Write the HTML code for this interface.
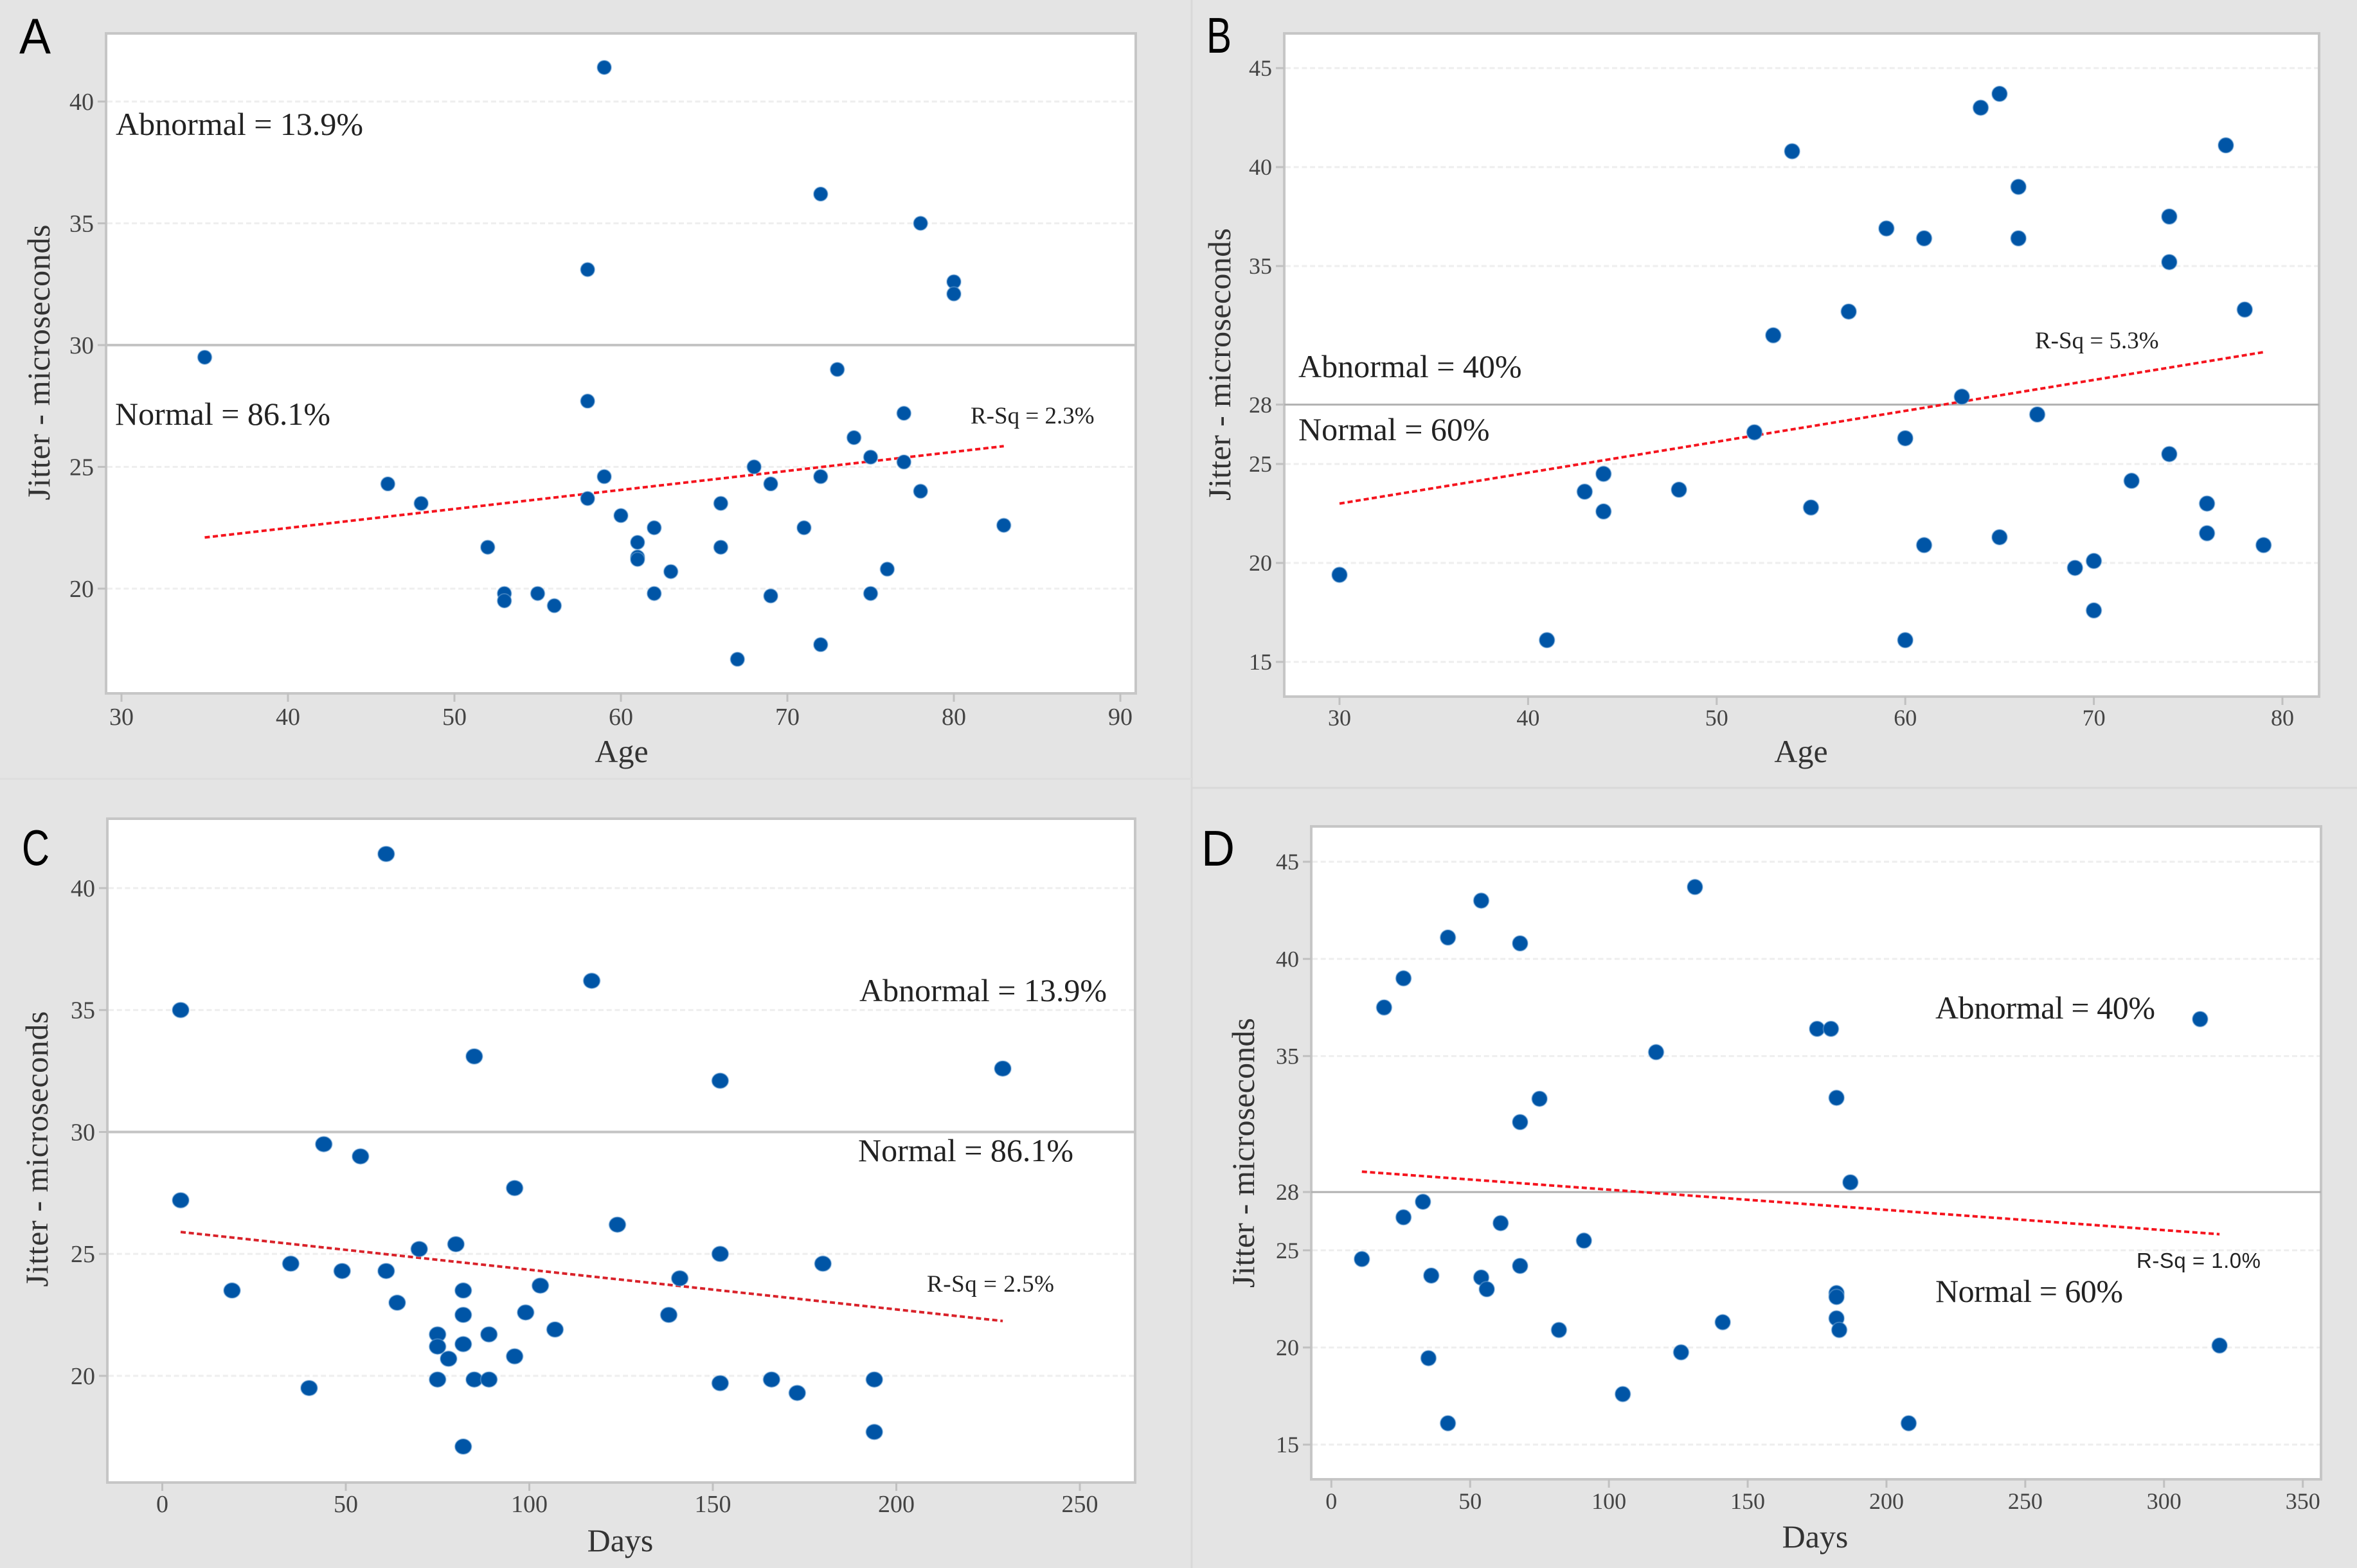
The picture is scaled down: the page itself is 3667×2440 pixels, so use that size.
<!DOCTYPE html>
<html lang="en">
<head>
<meta charset="utf-8">
<title>Jitter scatter plots</title>
<style>
html,body{margin:0;padding:0;background:#e4e4e4;}
svg{display:block;}
text{font-family:"Liberation Serif",serif;}
.letter{font-family:"Liberation Sans",sans-serif;font-size:78px;fill:#000;}
.note{font-size:50px;fill:#222;}
.rsq{font-size:37px;fill:#222;}
.axis-title{font-size:50px;fill:#333;text-anchor:middle;}
.tick-label{fill:#444;}
</style>
</head>
<body>
<svg id="figure" xmlns="http://www.w3.org/2000/svg" width="3667" height="2440" viewBox="0 0 3667 2440">
  <rect x="0" y="0" width="3667" height="2440" fill="#e4e4e4"/>
  <line x1="1854" y1="0" x2="1854" y2="2440" stroke="#d8d8d8" stroke-width="3"/>
  <line x1="0" y1="1212" x2="1854" y2="1212" stroke="#dedede" stroke-width="3"/>
  <line x1="1854" y1="1226" x2="3667" y2="1226" stroke="#d8d8d8" stroke-width="3"/>

  <g id="panel-a"></g>
  <g id="panel-b"></g>
  <g id="panel-c"></g>
  <g id="panel-d"></g>

  <g>
    <text class="letter" x="30" y="83" textLength="49" lengthAdjust="spacingAndGlyphs">A</text>
    <text class="axis-title" x="967" y="1186">Age</text>
    <text class="axis-title" transform="translate(77 564) rotate(-90)" x="0" y="0" textLength="429">Jitter - microseconds</text>
    <text class="note" x="180" y="210">Abnormal = 13.9%</text>
    <text class="note" x="179" y="661">Normal = 86.1%</text>
    <text class="rsq" x="1510" y="659">R-Sq = 2.3%</text>
  </g>
  <g>
    <text class="letter" x="1877" y="82" textLength="39" lengthAdjust="spacingAndGlyphs">B</text>
    <text class="axis-title" x="2802" y="1186">Age</text>
    <text class="axis-title" transform="translate(1914 567) rotate(-90)" x="0" y="0" textLength="424">Jitter - microseconds</text>
    <text class="note" x="2020" y="587">Abnormal = 40%</text>
    <text class="note" x="2020" y="685">Normal = 60%</text>
    <text class="rsq" x="3166" y="542">R-Sq = 5.3%</text>
  </g>
  <g>
    <text class="letter" x="34" y="1346" textLength="43" lengthAdjust="spacingAndGlyphs">C</text>
    <text class="axis-title" x="965" y="2414">Days</text>
    <text class="axis-title" transform="translate(74 1788) rotate(-90)" x="0" y="0" textLength="429">Jitter - microseconds</text>
    <text class="note" x="1337" y="1558">Abnormal = 13.9%</text>
    <text class="note" x="1335" y="1807">Normal = 86.1%</text>
    <text class="rsq" x="1442" y="2010" textLength="198">R-Sq = 2.5%</text>
  </g>
  <g>
    <text class="letter" x="1869" y="1347" textLength="52" lengthAdjust="spacingAndGlyphs">D</text>
    <text class="axis-title" x="2824" y="2408">Days</text>
    <text class="axis-title" transform="translate(1951 1794) rotate(-90)" x="0" y="0" textLength="420">Jitter - microseconds</text>
    <text class="note" x="3011" y="1585" textLength="342">Abnormal = 40%</text>
    <text class="note" x="3011" y="2026" textLength="292">Normal = 60%</text>
    <text class="rsq" x="3324" y="1973" textLength="193" style="font-family:'Liberation Sans',sans-serif;font-size:33px;">R-Sq = 1.0%</text>
  </g>
</svg>

<script>
// Panel A: jitter vs age (normal limit 30)
const panelAAge = [59,72,78,58,80,80,35,73,58,77,74,75,77,68,59,72,46,69,78,58,48,66,60,62,71,83,61,52,66,61,61,63,76,53,55,62,75,53,56,69,72,67];
const panelAJitter = [41.4,36.2,35,33.1,32.6,32.1,29.5,29,27.7,27.2,26.2,25.4,25.2,25,24.6,24.6,24.3,24.3,24,23.7,23.5,23.5,23,22.5,22.5,22.6,21.9,21.7,21.7,21.3,21.2,20.7,20.8,19.8,19.8,19.8,19.8,19.5,19.3,19.7,17.7,17.1];
const panelATrendX = [35,83];
const panelATrendY = [22.1,25.85];
const panelAXTicks = [30,40,50,60,70,80,90];
const panelAYTicks = [20,25,30,35,40];
const panelALimit = [30];

// Panel B: jitter vs age (normal limit 28)
const panelBAge = [30,41,43,44,44,48,52,53,54,55,57,59,60,60,61,61,63,64,65,65,66,66,67,69,70,70,72,74,74,74,76,76,77,78,79];
const panelBJitter = [19.4,16.1,23.6,24.5,22.6,23.7,26.6,31.5,40.8,22.8,32.7,36.9,26.3,16.1,36.4,20.9,28.4,43,43.7,21.3,39,36.4,27.5,19.75,20.1,17.6,24.15,37.5,35.2,25.5,23,21.5,41.1,32.8,20.9];
const panelBTrendX = [30,79];
const panelBTrendY = [23,30.65];
const panelBXTicks = [30,40,50,60,70,80];
const panelBYTicks = [15,20,25,28,35,40,45];
const panelBLimit = [28];

// Panel C: jitter vs days (normal limit 30)
const panelCDays = [5,5,19,35,40,44,49,54,61,61,64,70,75,75,75,78,80,82,82,82,82,85,85,89,89,96,96,99,103,107,117,124,138,141,152,152,152,166,173,180,194,194,229];
const panelCJitter = [35,27.2,23.5,24.6,19.5,29.5,24.3,29,41.4,24.3,23,25.2,21.7,21.2,19.85,20.7,25.4,23.5,22.5,21.3,17.1,33.1,19.85,21.7,19.85,27.7,20.8,22.6,23.7,21.9,36.2,26.2,22.5,24,32.1,25,19.7,19.85,19.3,24.6,19.85,17.7,32.6];
const panelCTrendX = [5,229];
const panelCTrendY = [25.9,22.25];
const panelCXTicks = [0,50,100,150,200,250];
const panelCYTicks = [20,25,30,35,40];
const panelCLimit = [30];

// Panel D: jitter vs days (normal limit 28)
const panelDDays = [11,19,26,26,33,35,36,42,42,54,54,56,61,68,68,68,75,82,91,105,117,126,131,141,175,180,182,182,182,182,183,187,208,313,320];
const panelDJitter = [24.55,37.5,39,26.7,27.5,19.45,23.7,41.1,16.1,43,23.6,23,26.4,40.8,31.6,24.2,32.8,20.9,25.5,17.6,35.2,19.75,43.7,21.3,36.4,36.4,32.85,22.8,22.6,21.5,20.9,28.5,16.1,36.9,20.1];
const panelDTrendX = [11,320];
const panelDTrendY = [29.05,25.83];
const panelDXTicks = [0,50,100,150,200,250,300,350];
const panelDYTicks = [15,20,25,28,35,40,45];
const panelDLimit = [28];

const SVG_NS = 'http://www.w3.org/2000/svg';

function make(parent, tag, attrs) {
  const el = document.createElementNS(SVG_NS, tag);
  for (const key in attrs) el.setAttribute(key, attrs[key]);
  parent.appendChild(el);
  return el;
}

function linearScale(domain, range) {
  return function (v) {
    return range[0] + (v - domain[0]) * (range[1] - range[0]) / (domain[1] - domain[0]);
  };
}

function drawPanel(id, layout, xValues, yValues, trendX, trendY, xTicks, yTicks, limit) {
  const root = document.getElementById(id);
  const xScale = linearScale(layout.xDomain, layout.xRange);
  const yScale = linearScale(layout.yDomain, layout.yRange);
  const w = layout.right - layout.left;
  const h = layout.bottom - layout.top;

  const plot = make(root, 'rect', {x: layout.left, y: layout.top, width: w, height: h, fill: '#fff', stroke: '#c6c6c6', 'stroke-width': 4});
  
  

  yTicks.forEach(function (t) {
    const y = yScale(t);
    const isLimit = limit.indexOf(t) >= 0;
    if (!isLimit) {
      const grid = make(root, 'line', {x1: layout.left + 2, y1: y, x2: layout.right - 2, y2: y, stroke: '#eeeeee', 'stroke-width': 3, 'stroke-dasharray': '8 4.7'});
      
      
    }
    const tick = make(root, 'line', {x1: layout.left - 13, y1: y, x2: layout.left, y2: y, stroke: '#c0c0c0', 'stroke-width': 3});
    
    
    const label = make(root, 'text', {x: layout.left - 19, y: y + layout.tickSize * 0.34, 'text-anchor': 'end', 'font-size': layout.tickSize, class: 'tick-label'});
    label.textContent = String(t);
    
    
  });

  limit.forEach(function (t) {
    const line = make(root, 'line', {x1: layout.left, y1: yScale(t), x2: layout.right, y2: yScale(t), stroke: layout.limitColor, 'stroke-width': layout.limitWidth});
    
    
  });

  xTicks.forEach(function (t) {
    const x = xScale(t);
    const tick = make(root, 'line', {x1: x, y1: layout.bottom, x2: x, y2: layout.bottom + 13, stroke: '#c0c0c0', 'stroke-width': 3});
    
    
    const label = make(root, 'text', {x: x, y: layout.xLabelY, 'text-anchor': 'middle', 'font-size': layout.tickSize, class: 'tick-label'});
    label.textContent = String(t);
    
    
  });

  const trend = make(root, 'line', {x1: xScale(trendX[0]), y1: yScale(trendY[0]), x2: xScale(trendX[1]), y2: yScale(trendY[1]), stroke: layout.trendColor, 'stroke-width': 4, 'stroke-dasharray': '8 4.7'});
  
  

  xValues.forEach(function (v, i) {
    const dot = make(root, 'ellipse', {cx: xScale(v), cy: yScale(yValues[i]), rx: layout.rx, ry: layout.ry, fill: '#0055a6', stroke: '#7fb0dc', 'stroke-opacity': 0.45, 'stroke-width': 2});
    
    
  });
}

const layoutA = {left:165, right:1767, top:52, bottom:1079, xDomain:[30,90], xRange:[189,1743], yDomain:[20,40], yRange:[916,158], tickSize:38, xLabelY:1128, rx:11, ry:11, limitColor:'#c4c4c4', limitWidth:4, trendColor:'#f5141e'};
const layoutB = {left:1998, right:3608, top:52, bottom:1084, xDomain:[30,80], xRange:[2084,3551], yDomain:[15,45], yRange:[1030,106], tickSize:36, xLabelY:1129, rx:12, ry:12, limitColor:'#b0b0b0', limitWidth:3, trendColor:'#f5141e'};
const layoutC = {left:167, right:1766, top:1274, bottom:2307, xDomain:[0,250], xRange:[252.5,1680], yDomain:[20,40], yRange:[2141,1382], tickSize:38, xLabelY:2353, rx:13, ry:12, limitColor:'#c4c4c4', limitWidth:4, trendColor:'#d9222a'};
const layoutD = {left:2040, right:3611, top:1286, bottom:2302, xDomain:[0,350], xRange:[2071.3,3582.7], yDomain:[15,45], yRange:[2248,1341], tickSize:36, xLabelY:2348, rx:12, ry:12, limitColor:'#b0b0b0', limitWidth:3, trendColor:'#f5141e'};

drawPanel('panel-a', layoutA, panelAAge, panelAJitter, panelATrendX, panelATrendY, panelAXTicks, panelAYTicks, panelALimit);
drawPanel('panel-b', layoutB, panelBAge, panelBJitter, panelBTrendX, panelBTrendY, panelBXTicks, panelBYTicks, panelBLimit);
drawPanel('panel-c', layoutC, panelCDays, panelCJitter, panelCTrendX, panelCTrendY, panelCXTicks, panelCYTicks, panelCLimit);
drawPanel('panel-d', layoutD, panelDDays, panelDJitter, panelDTrendX, panelDTrendY, panelDXTicks, panelDYTicks, panelDLimit);
</script>
</body>
</html>
